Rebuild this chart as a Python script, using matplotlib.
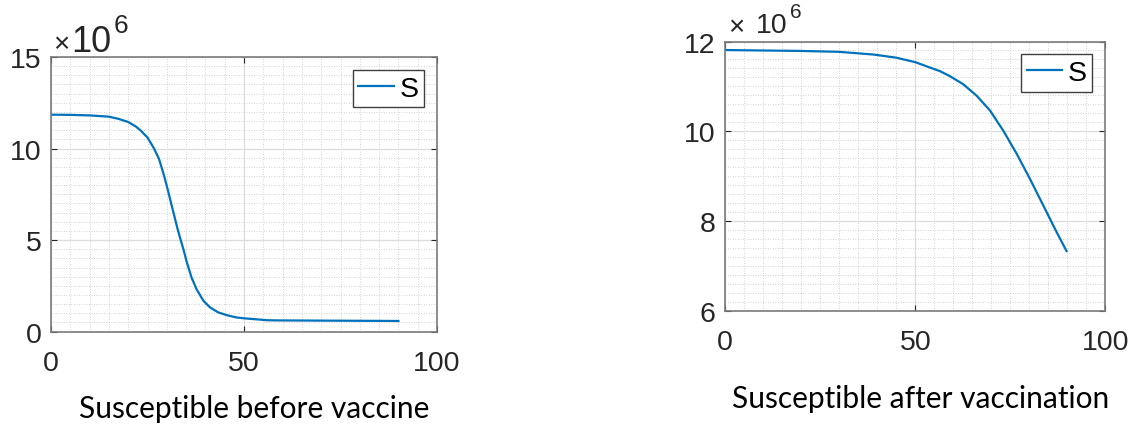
import matplotlib
matplotlib.use("Agg")
import matplotlib.pyplot as plt
from matplotlib.ticker import MultipleLocator

# ---- data (values in units of 10^6) ----
t_before = [0, 5, 10, 15, 17.5, 20, 22, 23.3, 25, 26.7, 28, 29.3, 30.2, 31.5, 32.8,
            33.6, 34.3, 35.2, 36.4, 37.7, 39.5, 41.2, 43.3, 45.5, 48.1, 50.3, 53.3,
            56, 60, 70, 80, 90]
s_before = [11.85, 11.84, 11.81, 11.74, 11.62, 11.45, 11.2, 10.97, 10.60, 10.0, 9.42,
            8.51, 7.79, 6.69, 5.60, 5.0, 4.50, 3.78, 2.96, 2.32, 1.68, 1.32, 1.05, 0.90,
            0.77, 0.72, 0.67, 0.62, 0.61, 0.60, 0.59, 0.58]

t_after = [0, 10, 20, 30, 39, 45, 50, 56.5, 59.1, 62.6, 66.2, 69.7, 73.2, 76.7, 80.2,
           83.7, 87.2, 89.8]
s_after = [11.81, 11.80, 11.79, 11.77, 11.71, 11.64, 11.54, 11.34, 11.23, 11.05, 10.79,
           10.46, 10.01, 9.50, 8.94, 8.35, 7.76, 7.34]

left_xticks = [0, 50, 100]
left_yticks = [0, 5, 10, 15]
right_xticks = [0, 50, 100]
right_yticks = [6, 8, 10, 12]
legend_label = "S"
xlabel_left = "Susceptible before vaccine"
xlabel_right = "Susceptible after vaccination"

W, H = 1137, 427
fig = plt.figure(figsize=(W / 100, H / 100), dpi=100)
fig.patch.set_facecolor("white")

LINE_C = "#0072BD"
TXT_C = "#262626"
TICK_FONT = "Liberation Sans"
LABEL_FONT = "Lato"
TICK_SIZE = 20.5


def px_axes(l, t, r, b):
    return fig.add_axes([l / W, 1 - b / H, (r - l) / W, (b - t) / H])


def style(ax, xticks, yticks, ylim, yminor):
    ax.set_xlim(0, 100)
    ax.set_ylim(*ylim)
    ax.set_xticks(xticks)
    ax.set_yticks(yticks)
    ax.xaxis.set_minor_locator(MultipleLocator(5))
    ax.yaxis.set_minor_locator(MultipleLocator(yminor))
    ax.grid(which="major", color="#dcdcdc", linewidth=0.9, linestyle="-")
    ax.grid(which="minor", color="#c4c4c4", linewidth=0.6, linestyle=(0, (1, 2)))
    ax.set_axisbelow(True)
    ax.tick_params(which="major", direction="in", length=4, width=0.8, color=TXT_C,
                   top=True, right=True, labelsize=TICK_SIZE, labelcolor=TXT_C)
    ax.tick_params(which="minor", length=0)
    ax.tick_params(axis="x", pad=13)
    ax.tick_params(axis="y", pad=7)
    for lab in ax.get_xticklabels() + ax.get_yticklabels():
        lab.set_fontfamily(TICK_FONT)
    for sp in ax.spines.values():
        sp.set_color("#7a7a7a")
        sp.set_linewidth(1.2)


def legend(ax):
    leg = ax.legend(loc="upper right", frameon=True, fancybox=False,
                    edgecolor="#404040", framealpha=1, handlelength=1.25,
                    handletextpad=0.2, borderpad=0.2, borderaxespad=0.45,
                    prop={"family": TICK_FONT, "size": TICK_SIZE})
    leg.get_frame().set_linewidth(1.0)


def ftext(x, y, s, size, **kw):
    fig.text(x / W, 1 - y / H, s, fontsize=size, va="baseline", ha="left",
             family=TICK_FONT, color=TXT_C, **kw)


# left axes
ax1 = px_axes(51, 58, 437, 332.6)
ax1.plot(t_before, s_before, color=LINE_C, linewidth=1.6, label=legend_label,
         solid_joinstyle="round")
style(ax1, left_xticks, left_yticks, (0, 15), 0.5)
legend(ax1)
ftext(53, 52, "\u00d7", 20)
ftext(71, 52, "10", 26)
ftext(114, 33, "6", 19)
fig.text(254 / W, 1 - 418 / H, xlabel_left, fontsize=21.5, family=LABEL_FONT,
         ha="center", va="baseline", color="black")

# right axes
ax2 = px_axes(725.3, 42.5, 1105.3, 312.3)
ax2.plot(t_after, s_after, color=LINE_C, linewidth=1.6, label=legend_label,
         solid_joinstyle="round")
style(ax2, right_xticks, right_yticks, (6, 12), 0.2)
legend(ax2)
ftext(728, 35, "\u00d7", 20)
ftext(756, 33, "10", TICK_SIZE)
ftext(790, 18, "6", 15)
fig.text(921 / W, 1 - 408 / H, xlabel_right, fontsize=21.5, family=LABEL_FONT,
         ha="center", va="baseline", color="black")

fig.savefig("out.png", dpi=100, facecolor="white")
